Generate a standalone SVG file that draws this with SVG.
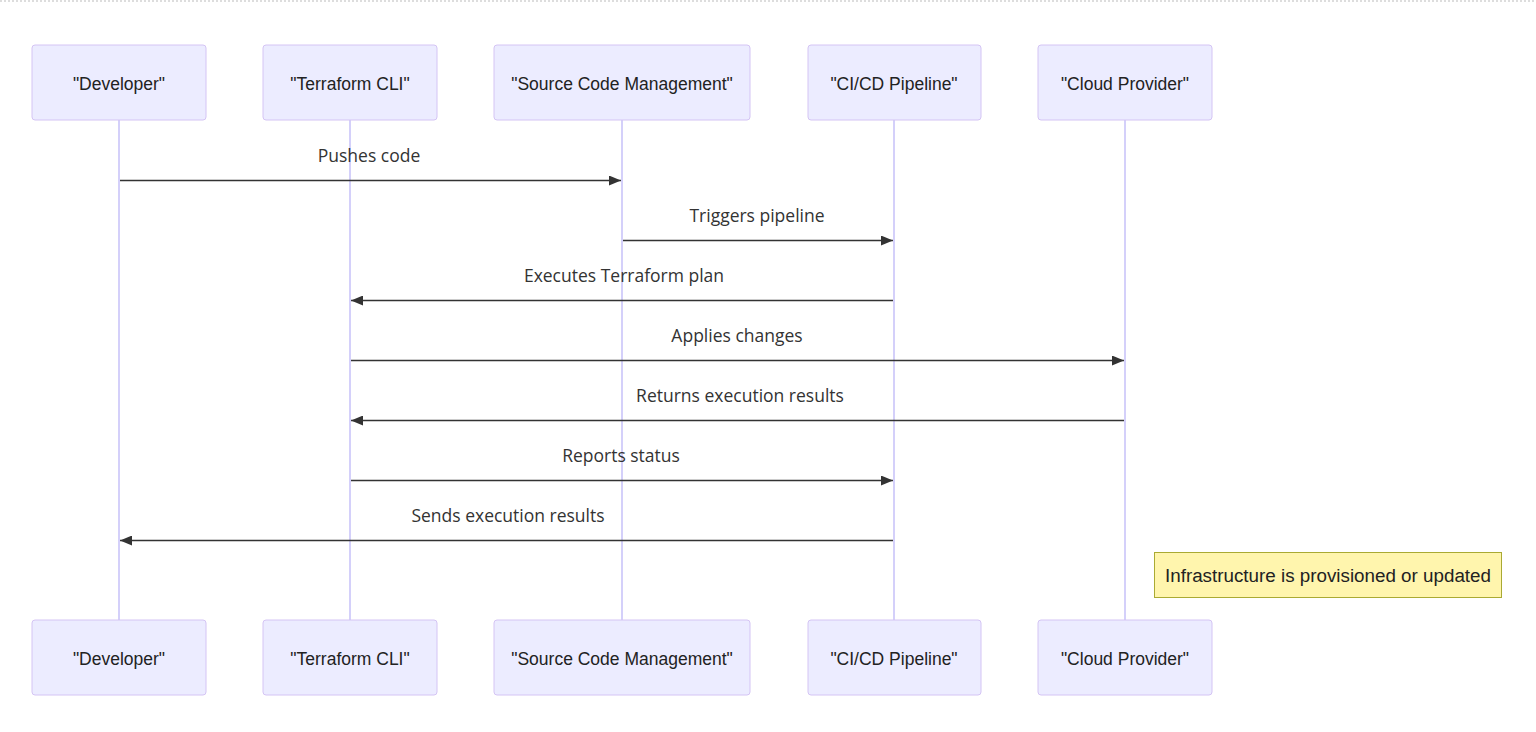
<svg xmlns="http://www.w3.org/2000/svg" width="1536" height="732" viewBox="0 0 1536 732">
<style>
.actor{fill:#ECECFF;stroke:#D4C4F4;stroke-width:1}
.atext{font-family:"Liberation Sans",Arial,sans-serif;font-size:17.5px;fill:#222;text-anchor:middle;dominant-baseline:central}
.life{stroke:#D4D0FA;stroke-width:2}
.msg{stroke:#333;stroke-width:1.6;fill:none}
.mtext{font-family:"Open Sans","DejaVu Sans",sans-serif;font-size:17.5px;fill:#333;text-anchor:middle}
.note{fill:#FFF5AD;stroke:#AAAA33;stroke-width:1}
.ntext{font-family:"Liberation Sans",Arial,sans-serif;font-size:18px;fill:#222;text-anchor:middle;dominant-baseline:central}
</style>
<defs>
<marker id="arrow" markerWidth="12" markerHeight="10" refX="12" refY="5" orient="auto" markerUnits="userSpaceOnUse">
<path d="M0,0 L12,5 L0,10 z" fill="#333"/>
</marker>
</defs>
<line x1="0" y1="1" x2="1536" y2="1" stroke="#bbb" stroke-width="1" stroke-dasharray="2,2"/>
<g id="lifelines">
<line class="life" x1="119" y1="120" x2="119" y2="620"/>
<line class="life" x1="350" y1="120" x2="350" y2="620"/>
<line class="life" x1="622" y1="120" x2="622" y2="620"/>
<line class="life" x1="894" y1="120" x2="894" y2="620"/>
<line class="life" x1="1125" y1="120" x2="1125" y2="620"/>
</g>
<g id="developer">
<rect class="actor" x="32" y="45" width="174" height="75" rx="3"/>
<text class="atext" x="119" y="84">"Developer"</text>
<rect class="actor" x="32" y="620" width="174" height="75" rx="3"/>
<text class="atext" x="119" y="659">"Developer"</text>
</g>
<g id="terraform">
<rect class="actor" x="263" y="45" width="174" height="75" rx="3"/>
<text class="atext" x="350" y="84">"Terraform CLI"</text>
<rect class="actor" x="263" y="620" width="174" height="75" rx="3"/>
<text class="atext" x="350" y="659">"Terraform CLI"</text>
</g>
<g id="scm">
<rect class="actor" x="494" y="45" width="256" height="75" rx="3"/>
<text class="atext" x="622" y="84">"Source Code Management"</text>
<rect class="actor" x="494" y="620" width="256" height="75" rx="3"/>
<text class="atext" x="622" y="659">"Source Code Management"</text>
</g>
<g id="cicd">
<rect class="actor" x="808" y="45" width="173" height="75" rx="3"/>
<text class="atext" x="894" y="84">"CI/CD Pipeline"</text>
<rect class="actor" x="808" y="620" width="173" height="75" rx="3"/>
<text class="atext" x="894" y="659">"CI/CD Pipeline"</text>
</g>
<g id="cloud">
<rect class="actor" x="1038" y="45" width="174" height="75" rx="3"/>
<text class="atext" x="1125" y="84">"Cloud Provider"</text>
<rect class="actor" x="1038" y="620" width="174" height="75" rx="3"/>
<text class="atext" x="1125" y="659">"Cloud Provider"</text>
</g>
<g id="connectors">
<line class="msg" x1="120" y1="180.5" x2="621" y2="180.5" marker-end="url(#arrow)"/>
<text class="mtext" x="369" y="162">Pushes code</text>
<line class="msg" x1="623" y1="240.5" x2="893" y2="240.5" marker-end="url(#arrow)"/>
<text class="mtext" x="757" y="222">Triggers pipeline</text>
<line class="msg" x1="893" y1="300.5" x2="351" y2="300.5" marker-end="url(#arrow)"/>
<text class="mtext" x="624" y="282">Executes Terraform plan</text>
<line class="msg" x1="351" y1="360.5" x2="1124" y2="360.5" marker-end="url(#arrow)"/>
<text class="mtext" x="737" y="342">Applies changes</text>
<line class="msg" x1="1124" y1="420.5" x2="351" y2="420.5" marker-end="url(#arrow)"/>
<text class="mtext" x="740" y="402">Returns execution results</text>
<line class="msg" x1="351" y1="480.5" x2="893" y2="480.5" marker-end="url(#arrow)"/>
<text class="mtext" x="621" y="462">Reports status</text>
<line class="msg" x1="893" y1="540.5" x2="120" y2="540.5" marker-end="url(#arrow)"/>
<text class="mtext" x="508" y="522">Sends execution results</text>
</g>
<g id="note">
<rect class="note" x="1154.5" y="552.5" width="347" height="45"/>
<text class="ntext" x="1328" y="576" textLength="326" lengthAdjust="spacingAndGlyphs">Infrastructure is provisioned or updated</text>
</g>
</svg>
